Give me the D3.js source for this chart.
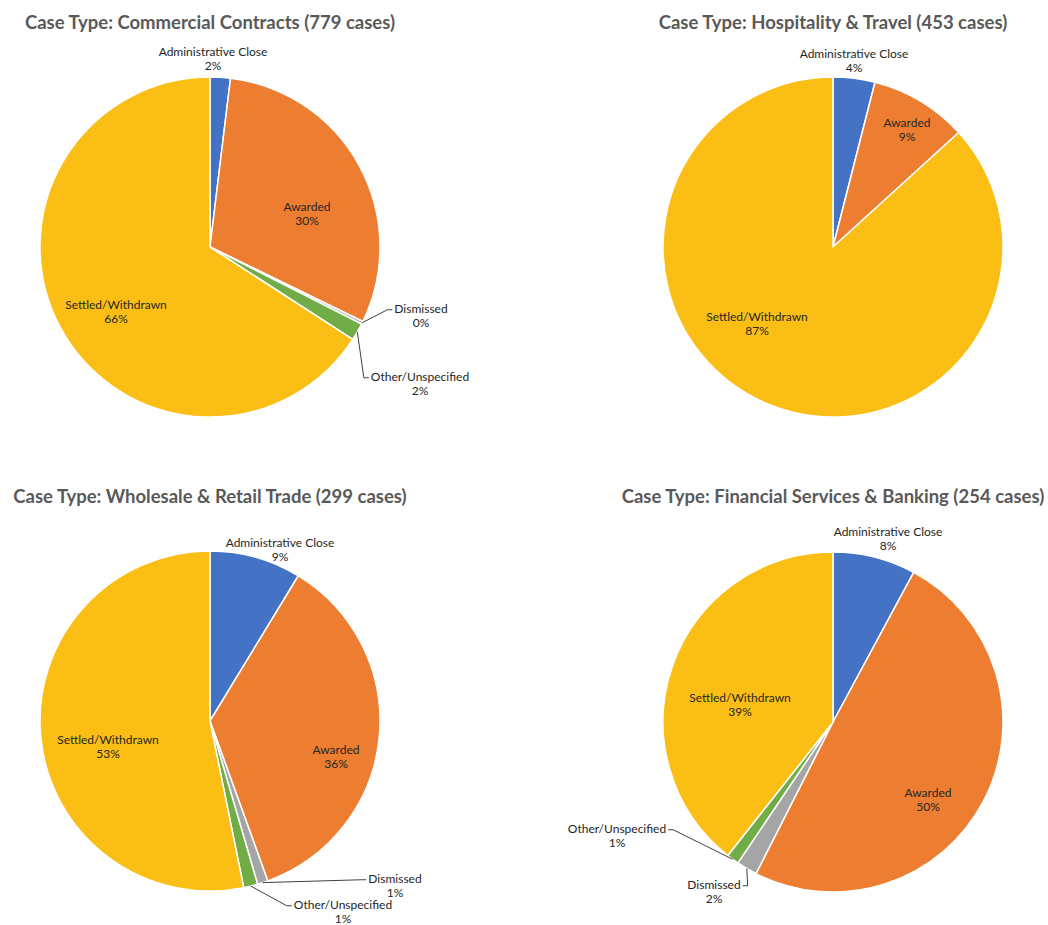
<!DOCTYPE html>
<html>
<head>
<meta charset="utf-8">
<script src="https://cdn.jsdelivr.net/npm/d3@7"></script>
<style>
  html, body { margin: 0; padding: 0; background: #fff; }
  svg { display: block; }
  .title { font-family: Lato, "Open Sans", sans-serif; font-weight: bold; font-size: 18.5px; fill: #595959; }
  .lbl { font-family: Lato, "Open Sans", sans-serif; font-size: 12px; fill: #262626; }
  .leader { fill: none; stroke: #404040; stroke-width: 1; }
</style>
</head>
<body>
<svg id="chart" width="1048" height="925"></svg>
<script>
// outcome categories, in slice order (clockwise from 12 o'clock)
const outcomes = ['Administrative Close', 'Awarded', 'Dismissed', 'Other/Unspecified', 'Settled/Withdrawn'];

const caseTypes  = ['Commercial Contracts', 'Hospitality & Travel', 'Wholesale & Retail Trade', 'Financial Services & Banking'];
const caseTotals = [779, 453, 299, 254];

// case counts per outcome (same order as outcomes)
const commercialCounts  = [15, 236, 2, 13, 513];
const hospitalityCounts = [18, 42, 0, 0, 393];
const wholesaleCounts   = [26, 107, 3, 4, 159];
const financialCounts   = [20, 126, 5, 3, 100];

const countsByType = [commercialCounts, hospitalityCounts, wholesaleCounts, financialCounts];

const COLORS = ['#4472C4', '#ED7D31', '#A5A5A5', '#70AD47', '#FBBE14'];
const RADIUS = 170;
const LINE_H = 14.5;

// layout: pie centres and where each data label sits (offset from centre)
const layout = [
    { cx: 210, cy: 247, ty: 23,
      labels: [[3, -188], [97, -33], [211, 69], [210, 137], [-94, 65]] },
    { cx: 833, cy: 247, ty: 23,
      labels: [[21, -186], [74, -117], null, null, [-76, 77]] },
    { cx: 210, cy: 721, ty: 497,
      labels: [[70, -171], [126, 36], [185, 165], [133, 191], [-102, 26]] },
    { cx: 833, cy: 722, ty: 497,
      labels: [[55, -183], [95, 78], [-119, 170], [-216, 114], [-93, -17]] }
];
// labels that get a leader line back to their slice
const withLeader = new Set(['Dismissed', 'Other/Unspecified']);

const svg = d3.select('#chart');
const color = d3.scaleOrdinal().domain(outcomes).range(COLORS);
const pct = d3.format('.0%');

const pie = d3.pie().sort(null).value(d => d.count);
const arc = d3.arc().innerRadius(0).outerRadius(RADIUS);

caseTypes.forEach((name, i) => {
    const L = layout[i];
    const total = caseTotals[i];
    const rows = outcomes.map((o, k) => ({ outcome: o, count: countsByType[i][k], k }));

    svg.append('text')
        .attr('class', 'title')
        .attr('x', L.cx)
        .attr('y', L.ty)
        .attr('text-anchor', 'middle')
        .attr('dy', '0.35em')
        .text(`Case Type: ${name} (${total} cases)`);

    const g = svg.append('g').attr('transform', `translate(${L.cx},${L.cy})`);
    const arcs = pie(rows);

    g.selectAll('path.slice')
        .data(arcs.filter(a => a.data.count > 0))
        .join('path')
        .attr('class', 'slice')
        .attr('d', arc)
        .attr('fill', a => color(a.data.outcome))
        .attr('stroke', '#fff')
        .attr('stroke-width', 1.5)
        .attr('stroke-linejoin', 'round');

    arcs.forEach(a => {
        const pos = L.labels[a.data.k];
        if (!pos || a.data.count === 0) return;
        const [lx, ly] = pos;

        const t = g.append('text')
            .attr('class', 'lbl')
            .attr('text-anchor', 'middle');
        t.append('tspan')
            .attr('x', lx)
            .attr('y', ly - LINE_H / 2)
            .attr('dy', '0.35em')
            .text(a.data.outcome);
        t.append('tspan')
            .attr('x', lx)
            .attr('y', ly + LINE_H / 2)
            .attr('dy', '0.35em')
            .text(pct(a.data.count / total));

        if (withLeader.has(a.data.outcome)) {
            const w = t.select('tspan').node().getComputedTextLength();
            const mid = (a.startAngle + a.endAngle) / 2;
            const sx = Math.sin(mid) * RADIUS;
            const sy = -Math.cos(mid) * RADIUS;
            const side = lx > sx ? -1 : 1;
            const ex = lx + side * (w / 2 + 2);
            const ey = ly - LINE_H / 2 + 1;
            g.insert('path', 'text')
                .attr('class', 'leader')
                .attr('d', d3.line()([[sx, sy], [ex + side * 5, ey], [ex, ey]]));
        }
    });
});
</script>
</body>
</html>
